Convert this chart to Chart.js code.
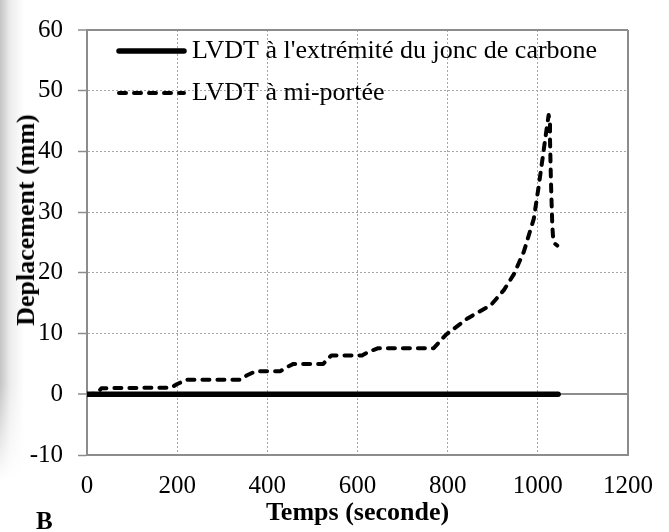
<!DOCTYPE html>
<html>
<head>
<meta charset="utf-8">
<script src="https://cdn.jsdelivr.net/npm/chart.js"></script>
<style>
  body { margin: 0; background: #fff; }
  #wrap { position: relative; width: 669px; height: 532px; }
  #ombre {
    position: absolute; left: 0; top: 0; width: 26px; height: 480px;
    background: linear-gradient(to right, #c4c4c4, #ececec 10px, #fff 24px);
    -webkit-mask-image: linear-gradient(to bottom, #000 80%, transparent 100%);
    mask-image: linear-gradient(to bottom, #000 80%, transparent 100%);
  }
  #graphe { position: absolute; left: 0; top: 0; }
  .lbl { position: absolute; font-family: "Liberation Serif", serif; font-weight: bold; color: #000; white-space: nowrap; line-height: 1; }
  #titreY { left: 26px; top: 220px; font-size: 26px; transform: translate(-50%, -50%) rotate(-90deg); }
  #lettre { left: 36px; top: 508px; font-size: 25px; }
</style>
</head>
<body>
<div id="wrap">
  <div id="ombre"></div>
  <canvas id="graphe" width="669" height="532"></canvas>
  <div class="lbl" id="titreY">Deplacement (mm)</div>
  <div class="lbl" id="lettre">B</div>
</div>
<script>
    // Données
    const legendes = ["LVDT à l'extrémité du jonc de carbone", 'LVDT à mi-portée'];

    // LVDT à l'extrémité : reste à zéro
    const tempsExtremite = [0, 1045];
    const deplExtremite = [0, 0];

    // LVDT à mi-portée
    const tempsMiPortee = [0, 22, 32, 187, 198, 220, 341, 354, 374, 429, 441, 458, 524, 532, 542,
        610, 625, 646, 769, 780, 796, 844, 896, 925, 947, 969, 991, 1002, 1013, 1020, 1024,
        1027, 1027, 1029, 1032, 1034, 1038, 1043];
    const deplMiPortee = [0, 0.1, 1.0, 1.1, 1.6, 2.4, 2.4, 3.1, 3.8, 3.8, 4.4, 5.0, 5.0, 5.7, 6.4,
        6.4, 7.0, 7.6, 7.6, 8.5, 9.8, 12.5, 14.7, 17.2, 19.8, 23.5, 28.9, 34.3, 40.2, 44.0, 46.0,
        44.5, 42.0, 35.3, 28.0, 25.6, 24.8, 24.5];

    const ticksX = [0, 200, 400, 600, 800, 1000, 1200];
    const ticksY = [-10, 0, 10, 20, 30, 40, 50, 60];

    const gris = '#8c8c8c';
    const police = '"Liberation Serif", "Times New Roman", serif';

    function points(xs, ys) {
        return xs.map((x, i) => ({ x: x, y: ys[i] }));
    }

    const dataDepl = {
        datasets: [{
            label: legendes[0],
            data: points(tempsExtremite, deplExtremite),
            borderColor: '#000',
            borderWidth: 5.5,
            borderCapStyle: 'round',
            pointRadius: 0,
            showLine: true
        }, {
            label: legendes[1],
            data: points(tempsMiPortee, deplMiPortee),
            borderColor: '#000',
            borderWidth: 4,
            borderDash: [7, 8],
            borderCapStyle: 'round',
            borderJoinStyle: 'round',
            pointRadius: 0,
            showLine: true
        }]
    };

    // légende dessinée dans la zone du graphique
    const legendeInterne = {
        id: 'legendeInterne',
        afterDatasetsDraw(chart) {
            const ctx = chart.ctx;
            const rangs = [51, 93];
            chart.data.datasets.forEach((ds, i) => {
                const y = rangs[i];
                ctx.save();
                ctx.strokeStyle = ds.borderColor;
                ctx.lineWidth = ds.borderWidth;
                ctx.lineCap = ds.borderCapStyle || 'butt';
                ctx.setLineDash(ds.borderDash || []);
                ctx.beginPath();
                ctx.moveTo(119, y);
                ctx.lineTo(184, y);
                ctx.stroke();
                ctx.setLineDash([]);
                ctx.fillStyle = '#000';
                ctx.font = '26px ' + police;
                ctx.textBaseline = 'middle';
                ctx.textAlign = 'left';
                ctx.fillText(ds.label, 192, y + 0.5);
                ctx.restore();
            });
        }
    };

    function estBord(ctx, bords) {
        return ctx.tick && bords.includes(ctx.tick.value);
    }

    const configDepl = {
        type: 'scatter',
        data: dataDepl,
        options: {
            responsive: false,
            animation: false,
            layout: {
                padding: { left: 0, right: 38, top: 21, bottom: 0 }
            },
            scales: {
                x: {
                    type: 'linear',
                    min: ticksX[0],
                    max: ticksX[ticksX.length - 1],
                    afterBuildTicks: function(scale) {
                        scale.ticks = ticksX.map(v => ({ value: v }));
                    },
                    afterFit: function(scale) { scale.height = 77; },
                    ticks: {
                        color: '#000',
                        padding: 16,
                        maxRotation: 0,
                        font: { family: police, size: 25 },
                        callback: function(value) { return String(value); }
                    },
                    grid: {
                        drawTicks: false,
                        color: ctx => estBord(ctx, [1200]) ? gris : '#a6a6a6',
                        lineWidth: ctx => estBord(ctx, [1200]) ? 2 : 1
                    },
                    border: {
                        color: gris,
                        width: 2,
                        dash: ctx => estBord(ctx, [1200]) ? [] : [2, 2]
                    },
                    title: {
                        display: true,
                        text: 'Temps (seconde)',
                        color: '#000',
                        font: { family: police, size: 26, weight: 'bold' },
                        padding: { top: 0, bottom: 3 }
                    }
                },
                y: {
                    min: ticksY[0],
                    max: ticksY[ticksY.length - 1],
                    afterBuildTicks: function(scale) {
                        scale.ticks = ticksY.map(v => ({ value: v }));
                    },
                    afterFit: function(scale) { scale.width = 87; },
                    ticks: {
                        color: '#000',
                        padding: 15,
                        font: { family: police, size: 25 },
                        callback: function(value) { return String(value); }
                    },
                    grid: {
                        tickLength: 9,
                        tickColor: gris,
                        tickWidth: 1.5,
                        tickBorderDash: [],
                        color: ctx => estBord(ctx, [0, 60]) ? gris : '#a6a6a6',
                        lineWidth: ctx => estBord(ctx, [0, 60]) ? 2 : 1
                    },
                    border: {
                        color: gris,
                        width: 2,
                        dash: ctx => estBord(ctx, [0, 60]) ? [] : [2, 2]
                    }
                }
            },
            plugins: {
                legend: { display: false },
                tooltip: { enabled: false }
            }
        },
        plugins: [legendeInterne]
    };

    const ctxDepl = document.getElementById('graphe').getContext('2d');
    const graphiqueDepl = new Chart(ctxDepl, configDepl);
</script>
</body>
</html>
